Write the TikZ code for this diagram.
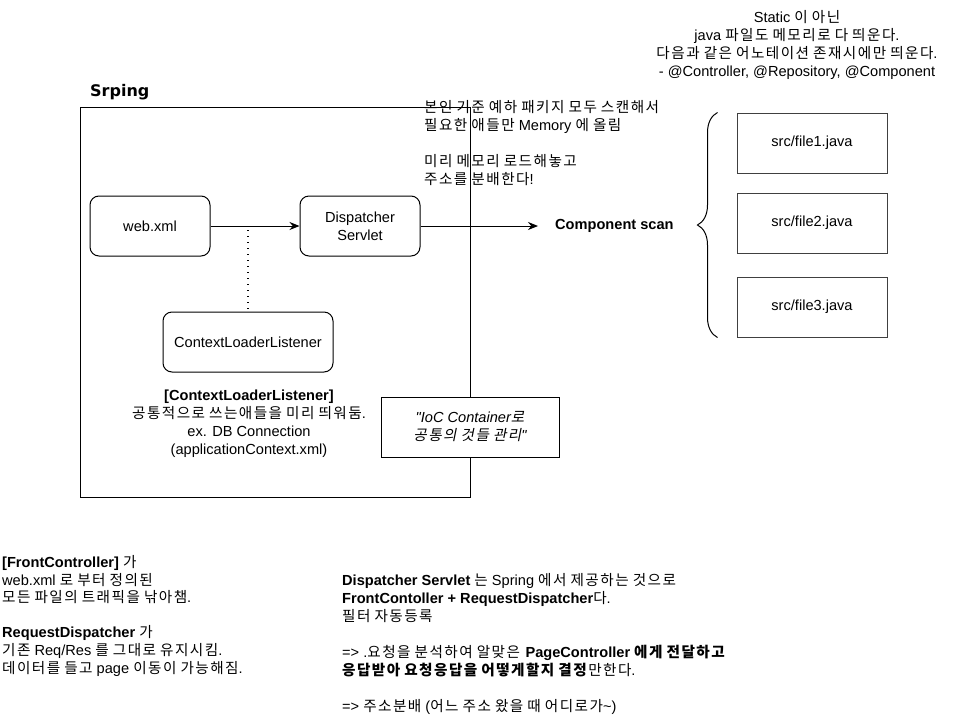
\documentclass[tikz,border=0pt]{standalone}
\usepackage{fontspec}
\setmainfont{Liberation Sans}[Ligatures=TeXOff]
\newfontfamily\krfont{Noto Sans CJK KR}[AutoFakeSlant=0.2, LetterSpace=10]
\newfontfamily\titlefont{DejaVu Sans}
\usetikzlibrary{arrows.meta, positioning, decorations.pathreplacing}

% hangul syllables are set in the korean font
\XeTeXinterchartokenstate=1
\newXeTeXintercharclass\hangulclass
\newcount\hangulchar
\hangulchar="AC00
\loop
  \XeTeXcharclass\hangulchar=\hangulclass
  \advance\hangulchar by 1
\ifnum\hangulchar<"D7A4 \repeat
\XeTeXinterchartoks 0 \hangulclass = {\krfont}
\XeTeXinterchartoks 4095 \hangulclass = {\krfont}
\XeTeXinterchartoks \hangulclass 0 = {\rmfamily}
\XeTeXinterchartoks \hangulclass 4095 = {\rmfamily}

\begin{document}
\begin{tikzpicture}[x=1pt, y=-1pt, node distance=80pt, font=\fontsize{14.6}{18}\selectfont]
\tikzstyle{rbox} = [rectangle, rounded corners=9pt, draw, line width=1pt, minimum width=120pt, minimum height=60pt, align=center]
\tikzstyle{fbox} = [rectangle, draw=black!75, line width=1pt, minimum width=150pt, minimum height=60pt]
\tikzstyle{note} = [inner sep=0pt, align=left]
\tikzstyle{flow} = [line width=1pt, -{Stealth[length=10pt, width=8pt]}]
\tikzstyle{tapline} = [line width=1.3pt, dash pattern=on 1.3pt off 4.7pt]

\useasboundingbox (0,0) rectangle (958,726);

% spring container
\node (spring) [draw, line width=1pt, minimum width=390pt, minimum height=390pt, inner sep=0pt, anchor=north west] at (80,107) {};
\node (springlabel) [inner sep=0pt, anchor=west] at (90,92) {\titlefont\bfseries\fontsize{16}{18}\selectfont Srping};

\node (web) [rbox] at (150,226) {web.xml};
\node (disp) [rbox, right of=web, xshift=130pt] {Dispatcher\\Servlet};
\node (cll) [rbox, minimum width=170pt] at (248,342) {ContextLoaderListener};
\node (scan) [inner sep=0pt, anchor=west] at (555,226) {\textbf{Component scan}};

\node (f1) [fbox] at (812,143) {src/file1.java};
\node (f2) [fbox, below of=f1] {src/file2.java};
\node (f3) [fbox, below of=f2, yshift=-4pt] {src/file3.java};

\node (ioc) [draw, fill=white, line width=1pt, minimum width=178pt, minimum height=60pt, align=center, font=\fontsize{14.6}{18}\selectfont\itshape] at (470,427) {"IoC Container로\\공통의 것들 관리"};

% notes
\node (topnote) [note, align=center, anchor=north] at (797,10) {\strut Static 이 아닌\\java 파일도 메모리로 다 띄운다.\\다음과 같은 어노테이션 존재시에만 띄운다.\\- @Controller, @Repository, @Component};
\node (scannote) [note, anchor=north west] at (424,100) {\strut 본인 기준 예하 패키지 모두 스캔해서\\필요한 애들만 Memory 에 올림\\[18pt]미리 메모리 로드해놓고\\주소를 분배한다!};
\node (cllnote) [note, align=center, anchor=north] at (249,388) {\strut\textbf{[ContextLoaderListener]}\\공통적으로 쓰는애들을 미리 띄워둠.\\ex. DB Connection\\(applicationContext.xml)};
\node (frontnote) [note, anchor=north west, font=\fontsize{14.6}{17.6}\selectfont] at (2,555) {\strut\textbf{[FrontController]} 가\\web.xml 로 부터 정의된\\모든 파일의 트래픽을 낚아챔.\\[17.6pt]\textbf{RequestDispatcher} 가\\기존 Req/Res 를 그대로 유지시킴.\\데이터를 들고 page 이동이 가능해짐.};
\node (dispnote) [note, anchor=north west] at (342,573) {\strut\textbf{Dispatcher Servlet} 는 Spring 에서 제공하는 것으로\\\textbf{FrontContoller + RequestDispatcher}다.\\필터 자동등록\\[18pt]=> .요청을 분석하여 알맞은 \textbf{PageController 에게 전달하고}\\\textbf{응답받아 요청응답을 어떻게할지 결정}만한다.\\[18pt]=> 주소분배 (어느 주소 왔을 때 어디로가\textasciitilde)};

% connectors
\coordinate (tap) at (248,230);
\draw [flow] (web) -- (disp);
\draw [tapline] (tap) -- (cll);
\draw [flow, shorten >=17pt] (disp) -- (scan);
\draw [line width=1pt, decorate, decoration={brace, amplitude=20pt}] ([xshift=-19pt]f3.south west) -- ([xshift=-19pt]f1.north west);

\end{tikzpicture}
\end{document}
